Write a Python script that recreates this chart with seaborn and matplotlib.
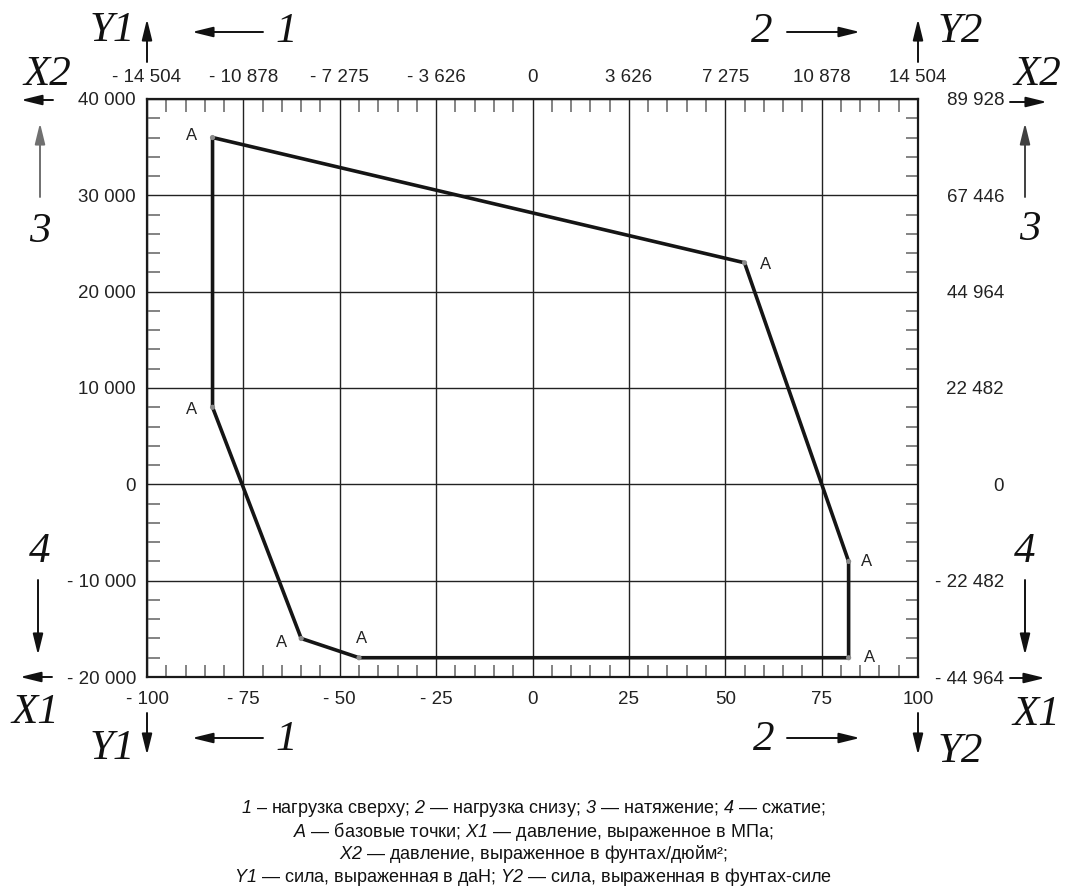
import numpy as np
import pandas as pd
import matplotlib
matplotlib.use("Agg")
import matplotlib.pyplot as plt
import seaborn as sns
from matplotlib.ticker import MultipleLocator

# ---------------- data ----------------
point_x = [-83, 55, 82, 82, -45, -60, -83]
point_y = [36000, 23000, -8000, -18000, -18000, -16000, 8000]
point_labels = ["A", "A", "A", "A", "A", "A", "A"]

x_ticks = [-100, -75, -50, -25, 0, 25, 50, 75, 100]
x1_labels = ["- 100", "- 75", "- 50", "- 25", "0", "25", "50", "75", "100"]
x2_labels = ["- 14 504", "- 10 878", "- 7 275", "- 3 626", "0",
             "3 626", "7 275", "10 878", "14 504"]
y_ticks = [-20000, -10000, 0, 10000, 20000, 30000, 40000]
y1_labels = ["- 20 000", "- 10 000", "0", "10 000", "20 000", "30 000", "40 000"]
y2_labels = ["- 44 964", "- 22 482", "0", "22 482", "44 964", "67 446", "89 928"]

caption_lines = [
    r"$1$ – нагрузка сверху; $2$ — нагрузка снизу; $3$ — натяжение; $4$ — сжатие;",
    r"$A$ — базовые точки; $X1$ — давление, выраженное в МПа;",
    r"$X2$ — давление, выраженное в фунтах/дюйм²;",
    r"$Y1$ — сила, выраженная в даН; $Y2$ — сила, выраженная в фунтах-силе",
]

# ---------------- style ----------------
sns.set_style("white")
plt.rcParams["font.family"] = ["Liberation Sans", "DejaVu Sans"]
plt.rcParams["mathtext.fontset"] = "custom"
plt.rcParams["mathtext.rm"] = "Liberation Sans:italic"
plt.rcParams["mathtext.it"] = "Liberation Sans:italic"
plt.rcParams["axes.unicode_minus"] = False

W, H = 1066, 888
fig = plt.figure(figsize=(W / 100, H / 100), dpi=100)
L, R, T, B = 147, 918, 99, 677
ax = fig.add_axes([L / W, 1 - B / H, (R - L) / W, (B - T) / H])

# closed polygon
df = pd.DataFrame({"x": point_x + point_x[:1], "y": point_y + point_y[:1]})
sns.lineplot(data=df, x="x", y="y", sort=False, estimator=None,
             color="#151515", lw=2.6, ax=ax, zorder=3)
sns.scatterplot(x=point_x, y=point_y, color="#8a8a8a", s=14,
                edgecolor="none", ax=ax, zorder=4)

ax.set_xlim(-100, 100)
ax.set_ylim(-20000, 40000)
ax.set_xlabel("")
ax.set_ylabel("")
ax.set_xticks(x_ticks, x1_labels)
ax.set_yticks(y_ticks, y1_labels)
ax.grid(True, which="major", color="#222222", lw=1.0)

# annotations "A"
offsets = [(-21, 2), (21, -2), (18, 0), (21, 0), (3, 19), (-20, -4), (-21, -2)]
for px, py, lab, off in zip(point_x, point_y, point_labels, offsets):
    ax.annotate(lab, (px, py), xytext=off, textcoords="offset pixels",
                ha="center", va="center", fontsize=12, color="#222")

TS = 13.5
# secondary scales
axr = ax.twinx()
axr.set_ylim(ax.get_ylim())
axr.set_yticks(y_ticks, y2_labels)
axr.tick_params(axis="y", length=0, pad=62, labelsize=TS, labelcolor="#222")
for lbl in axr.get_yticklabels():
    lbl.set_horizontalalignment("right")
axt = ax.twiny()
axt.set_xlim(ax.get_xlim())
axt.set_xticks(x_ticks, x2_labels)
axt.tick_params(axis="x", length=0, pad=9, labelsize=TS, labelcolor="#222")
for a in (axr, axt):
    for s in a.spines.values():
        s.set_visible(False)

ax.xaxis.set_minor_locator(MultipleLocator(5))
ax.yaxis.set_minor_locator(MultipleLocator(2000))
ax.tick_params(which="major", length=0, labelsize=TS, labelcolor="#222")
ax.tick_params(axis="x", which="major", pad=10)
ax.tick_params(axis="y", which="major", pad=8)
ax.tick_params(which="minor", direction="in", length=9, width=1.3,
               color="#7a7a7a", top=True, bottom=True, left=True, right=True)
for s in ax.spines.values():
    s.set_visible(True)
    s.set_color("#1a1a1a")
    s.set_linewidth(1.6)

# ---------------- overlay: arrows and letters ----------------
ov = fig.add_axes([0, 0, 1, 1])
ov.set_xlim(0, W)
ov.set_ylim(H, 0)
ov.axis("off")


def arrow(x0, y0, x1, y1, color="#111"):
    ov.annotate("", xy=(x1, y1), xytext=(x0, y0),
                arrowprops=dict(arrowstyle="-|>,head_length=0.9,head_width=0.22",
                                color=color, lw=1.4, shrinkA=0, shrinkB=0,
                                mutation_scale=14))


arrows = [
    (147, 62, 147, 19), (263, 32, 192, 32), (787, 32, 860, 32), (918, 62, 918, 19),
    (53, 100, 21, 100), (1010, 102, 1047, 102),
    (38, 580, 38, 655), (1025, 580, 1025, 655),
    (52, 677, 20, 677), (1010, 678, 1045, 678),
    (147, 713, 147, 755), (263, 738, 192, 738), (787, 738, 860, 738), (918, 713, 918, 755),
]
for a in arrows:
    arrow(*a)
arrow(40, 197, 40, 123, color="#707070")
arrow(1025, 197, 1025, 123, color="#404040")

big = [
    ("Y1", 112, 31), ("1", 286, 32), ("2", 762, 32), ("Y2", 960, 32),
    ("X2", 47, 75), ("X2", 1037, 75), ("3", 40, 232), ("3", 1030, 230),
    ("4", 40, 552), ("4", 1025, 552), ("X1", 35, 713), ("X1", 1036, 715),
    ("Y1", 112, 749), ("1", 286, 740), ("2", 764, 740), ("Y2", 960, 752),
]
for txt, x, y in big:
    ov.text(x, y, txt, ha="center", va="center", fontsize=31,
            family=["Liberation Serif", "DejaVu Serif"], style="italic", color="#111")

for i, line in enumerate(caption_lines):
    ov.text(533, 808 + 23 * i, line, ha="center", va="center", fontsize=13,
            family=["Liberation Sans", "DejaVu Sans"], color="#111")

fig.savefig("out.png", dpi=100)
